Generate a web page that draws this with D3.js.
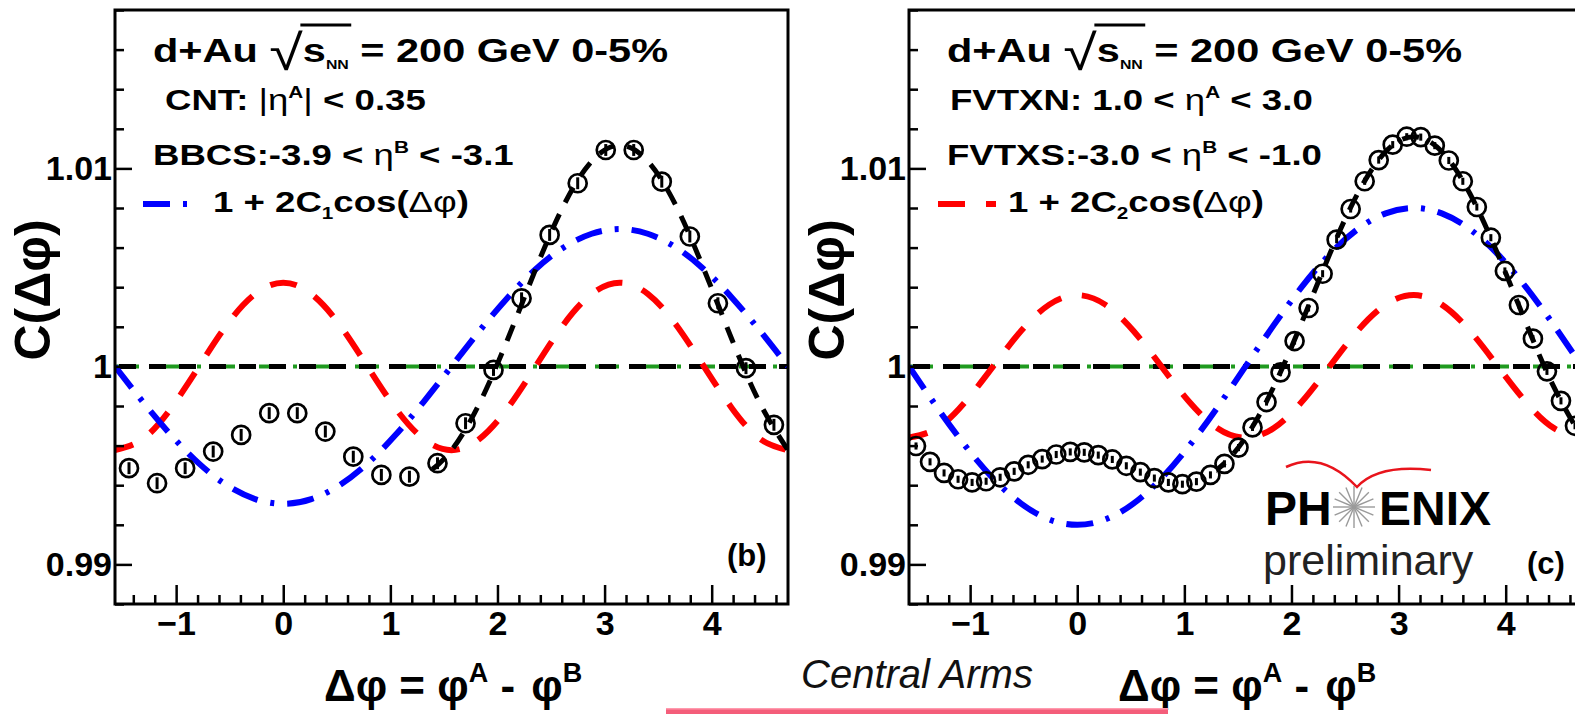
<!DOCTYPE html>
<html><head><meta charset="utf-8">
<script src="https://cdn.jsdelivr.net/npm/d3@7"></script>
<style>
html,body{margin:0;padding:0;background:#fff;}
svg{display:block;}
text{font-family:"Liberation Sans",Arial,Helvetica,sans-serif;white-space:pre;}
</style></head><body>
<svg id="fig" width="1575" height="714"></svg>
<script>
// ---- axis ranges and tick labels ----
const phiRange = [-Math.PI / 2, 3 * Math.PI / 2];
const corrRange = [0.988, 1.018];
const xTicks = [-1, 0, 1, 2, 3, 4];
const yTicks = [0.99, 1, 1.01];

// ---- panel (b): CNT - BBCS, 24 bins ----
const phiB = [-1.440, -1.178, -0.916, -0.654, -0.393, -0.131, 0.131, 0.393, 0.654, 0.916, 1.178, 1.440,
              1.702, 1.963, 2.225, 2.487, 2.749, 3.011, 3.272, 3.534, 3.796, 4.058, 4.320, 4.581];
const corrB = [0.99486, 0.99410, 0.99486, 0.99570, 0.99654, 0.99764, 0.99764, 0.99671, 0.99544, 0.99452, 0.99443, 0.99511,
               0.99713, 0.99982, 1.00344, 1.00664, 1.00925, 1.01093, 1.01093, 1.00933, 1.00656, 1.00319, 0.99991, 0.99705];
const errB = [0.0003, 0.0003, 0.0003, 0.0003, 0.0003, 0.0003, 0.0003, 0.0003, 0.0003, 0.0003, 0.0003, 0.0003,
              0.0003, 0.0003, 0.0003, 0.0003, 0.0003, 0.0003, 0.0003, 0.0003, 0.0003, 0.0003, 0.0003, 0.0003];

// ---- panel (c): FVTXN - FVTXS, 48 bins ----
const phiC = [-1.5054, -1.3744, -1.2435, -1.1126, -0.9817, -0.8508, -0.7199, -0.5890, -0.4581, -0.3272, -0.1963, -0.0654,
              0.0654, 0.1963, 0.3272, 0.4581, 0.5890, 0.7199, 0.8508, 0.9817, 1.1126, 1.2435, 1.3744, 1.5054,
              1.6363, 1.7672, 1.8981, 2.0290, 2.1599, 2.2908, 2.4216, 2.5525, 2.6834, 2.8143, 2.9452, 3.0761,
              3.2070, 3.3379, 3.4688, 3.5997, 3.7306, 3.8615, 3.9924, 4.1233, 4.2542, 4.3851, 4.5160, 4.6470];
const corrC = [0.99598, 0.99518, 0.99462, 0.99430, 0.99414, 0.99420, 0.99440, 0.99470, 0.99503, 0.99532, 0.99555, 0.99568,
               0.99566, 0.99552, 0.99530, 0.99498, 0.99466, 0.99436, 0.99414, 0.99405, 0.99418, 0.99452, 0.99508, 0.99590,
               0.99692, 0.99820, 0.99970, 1.00128, 1.00295, 1.00468, 1.00640, 1.00795, 1.00935, 1.01042, 1.01120, 1.01160,
               1.01158, 1.01115, 1.01040, 1.00935, 1.00805, 1.00650, 1.00482, 1.00310, 1.00140, 0.99975, 0.99826, 0.99700];
const errC = [0.00018, 0.00018, 0.00018, 0.00018, 0.00018, 0.00018, 0.00018, 0.00018, 0.00018, 0.00018, 0.00018, 0.00018,
              0.00018, 0.00018, 0.00018, 0.00018, 0.00018, 0.00018, 0.00018, 0.00018, 0.00018, 0.00018, 0.00018, 0.00018,
              0.00018, 0.00018, 0.00018, 0.00018, 0.00018, 0.00018, 0.00018, 0.00018, 0.00018, 0.00018, 0.00018, 0.00018,
              0.00018, 0.00018, 0.00018, 0.00018, 0.00018, 0.00018, 0.00018, 0.00018, 0.00018, 0.00018, 0.00018, 0.00018];

// ---- Fourier components, sampled every 15 degrees from -90 to 270 ----
const phiGrid = [-1.5708, -1.3090, -1.0472, -0.7854, -0.5236, -0.2618, 0, 0.2618, 0.5236, 0.7854, 1.0472, 1.3090,
                 1.5708, 1.8326, 2.0944, 2.3562, 2.6180, 2.8798, 3.1416, 3.4034, 3.6652, 3.9270, 4.1888, 4.4506, 4.7124];
const c1CurveB = [1.00000, 0.99820, 0.99653, 0.99509, 0.99399, 0.99330, 0.99306, 0.99330, 0.99399, 0.99509, 0.99653, 0.99820,
                  1.00000, 1.00180, 1.00347, 1.00491, 1.00601, 1.00670, 1.00694, 1.00670, 1.00601, 1.00491, 1.00347, 1.00180, 1.00000];
const c2CurveB = [0.99577, 0.99634, 0.99789, 1.00000, 1.00212, 1.00366, 1.00423, 1.00366, 1.00212, 1.00000, 0.99789, 0.99634,
                  0.99577, 0.99634, 0.99789, 1.00000, 1.00212, 1.00366, 1.00423, 1.00366, 1.00212, 1.00000, 0.99789, 0.99634, 0.99577];
const fitCurveB = [0.99577, 0.99454, 0.99442, 0.99509, 0.99611, 0.99696, 0.99729, 0.99696, 0.99611, 0.99509, 0.99442, 0.99454,
                   0.99577, 0.99814, 1.00136, 1.00491, 1.00813, 1.01036, 1.01117, 1.01036, 1.00813, 1.00491, 1.00136, 0.99814, 0.99577];
const c1CurveC = [1.00000, 0.99793, 0.99600, 0.99434, 0.99307, 0.99227, 0.99200, 0.99227, 0.99307, 0.99434, 0.99600, 0.99793,
                  1.00000, 1.00207, 1.00400, 1.00566, 1.00693, 1.00773, 1.00800, 1.00773, 1.00693, 1.00566, 1.00400, 1.00207, 1.00000];
const c2CurveC = [0.99640, 0.99688, 0.99820, 1.00000, 1.00180, 1.00312, 1.00360, 1.00312, 1.00180, 1.00000, 0.99820, 0.99688,
                  0.99640, 0.99688, 0.99820, 1.00000, 1.00180, 1.00312, 1.00360, 1.00312, 1.00180, 1.00000, 0.99820, 0.99688, 0.99640];
const fitCurveC = [0.99640, 0.99481, 0.99420, 0.99434, 0.99487, 0.99539, 0.99560, 0.99539, 0.99487, 0.99434, 0.99420, 0.99481,
                   0.99640, 0.99895, 1.00220, 1.00566, 1.00873, 1.01085, 1.01160, 1.01085, 1.00873, 1.00566, 1.00220, 0.99895, 0.99640];
const unityLevel = [1, 1];
// the full fit is shown from this Δφ onward
const fitStart = 1.3;

// ---- styles ----
const RED = "#ff0000", BLUE = "#0000ff", GREEN = "#1f9a1f";
const DASH_RED = "27 21", DASH_BLUE = "27 13 4 13", DASH_BLACK = "17 13", DASH_GREEN = "24 10 4 10";
const FONT = '"Liberation Sans",Arial,Helvetica,sans-serif';

const svg = d3.select("#fig");
svg.append("rect").attr("width", 1575).attr("height", 714).attr("fill", "#fff");
const defs = svg.append("defs");

// lays out a run of text pieces (sub/superscripts etc.) left to right
function richText(parent, x, y, segs, o) {
  const g = parent.append("g").attr("transform", `translate(${x},${y}) scale(${o.sx || 1},1)`);
  let cx = 0;
  const marks = [];
  segs.forEach(s => {
    const t = g.append("text")
      .attr("x", cx).attr("y", s.dy || 0)
      .attr("font-size", s.size || o.size)
      .attr("font-weight", s.weight || o.weight || "bold")
      .attr("font-family", s.family || FONT)
      .attr("fill", s.fill || o.fill || "#000")
      .text(s.t);
    const w = t.node().getComputedTextLength();
    marks.push({ x0: cx, x1: cx + w });
    cx += w + (s.gap || 0);
  });
  return { g, marks, width: cx };
}

function drawPanel(p) {
  const W = 673, top = 10, bottom = 604;
  const x = d3.scaleLinear().domain(phiRange).range([p.left, p.left + W]);
  const y = d3.scaleLinear().domain(corrRange).range([bottom, top]);
  const g = svg.append("g");

  defs.append("clipPath").attr("id", "clip-" + p.id)
    .append("rect").attr("x", p.left).attr("y", top).attr("width", W).attr("height", bottom - top);
  const plot = g.append("g").attr("clip-path", `url(#clip-${p.id})`);

  const smooth = d3.line().x(d => x(d[0])).y(d => y(d[1])).curve(d3.curveNatural);
  const straight = d3.line().x(d => x(d[0])).y(d => y(d[1]));

  // reference level C = 1
  plot.append("path").datum(phiRange.map((v, i) => [v, unityLevel[i]])).attr("d", straight)
    .attr("fill", "none").attr("stroke", GREEN).attr("stroke-width", 4).attr("stroke-dasharray", DASH_GREEN);
  plot.append("path").datum(phiRange.map((v, i) => [v, unityLevel[i]])).attr("d", straight)
    .attr("fill", "none").attr("stroke", "#000").attr("stroke-width", 5).attr("stroke-dasharray", DASH_BLACK)
    .attr("stroke-dashoffset", -4);

  // second and first harmonic components
  plot.append("path").datum(phiGrid.map((v, i) => [v, p.c2[i]])).attr("d", smooth)
    .attr("fill", "none").attr("stroke", RED).attr("stroke-width", 6).attr("stroke-dasharray", DASH_RED)
    .attr("stroke-dashoffset", p.redOffset);
  plot.append("path").datum(phiGrid.map((v, i) => [v, p.c1[i]])).attr("d", smooth)
    .attr("fill", "none").attr("stroke", BLUE).attr("stroke-width", 6).attr("stroke-dasharray", DASH_BLUE);

  // full Fourier fit on the away side
  const fitPts = phiGrid.map((v, i) => [v, p.fit[i]]);
  const fitClipId = "fitclip-" + p.id;
  defs.append("clipPath").attr("id", fitClipId)
    .append("rect").attr("x", x(fitStart)).attr("y", top).attr("width", p.left + W - x(fitStart)).attr("height", bottom - top);
  plot.append("g").attr("clip-path", `url(#${fitClipId})`)
    .append("path").datum(fitPts).attr("d", smooth)
    .attr("fill", "none").attr("stroke", "#000").attr("stroke-width", 5).attr("stroke-dasharray", DASH_BLACK);

  // data points with statistical errors
  const pts = plot.append("g");
  const data = p.phi.map((v, i) => ({ phi: v, c: p.corr[i], e: p.err[i] }));
  pts.selectAll("line.err").data(data).join("line").attr("class", "err")
    .attr("x1", d => x(d.phi)).attr("x2", d => x(d.phi))
    .attr("y1", d => y(d.c - d.e)).attr("y2", d => y(d.c + d.e))
    .attr("stroke", "#000").attr("stroke-width", 3);
  pts.selectAll("circle").data(data).join("circle")
    .attr("cx", d => x(d.phi)).attr("cy", d => y(d.c)).attr("r", 9)
    .attr("fill", "none").attr("stroke", "#000").attr("stroke-width", 2.7);

  // axes with inward ticks
  const axStyle = sel => {
    sel.attr("font-family", FONT).attr("font-size", 34).attr("font-weight", "bold");
    sel.select(".domain").remove();
    sel.selectAll(".tick line").attr("stroke", "#000").attr("stroke-width", 2.5);
    sel.selectAll(".tick text").attr("fill", "#000");
  };
  const xMinor = d3.range(-1.4, 4.7, 0.2).filter(v => Math.abs(v - Math.round(v)) > 1e-6);
  g.append("g").attr("transform", `translate(0,${bottom})`)
    .call(d3.axisBottom(x).tickValues(xMinor).tickSize(-9).tickFormat("")).call(axStyle);
  g.append("g").attr("transform", `translate(0,${bottom})`)
    .call(d3.axisBottom(x).tickValues(xTicks).tickSize(-19).tickPadding(7).tickFormat(d3.format("d"))).call(axStyle);
  const yMinor = d3.range(0.988, 1.0181, 0.002).filter(v => yTicks.every(t => Math.abs(t - v) > 1e-6));
  g.append("g").attr("transform", `translate(${p.left},0)`)
    .call(d3.axisLeft(y).tickValues(yMinor).tickSize(-9).tickFormat("")).call(axStyle);
  g.append("g").attr("transform", `translate(${p.left},0)`)
    .call(d3.axisLeft(y).tickValues(yTicks).tickSize(-17).tickPadding(3).tickFormat(d3.format("~g"))).call(axStyle);

  // frame
  g.append("rect").attr("x", p.left).attr("y", top).attr("width", W).attr("height", bottom - top)
    .attr("fill", "none").attr("stroke", "#000").attr("stroke-width", 3);

  // axis titles
  g.append("text").attr("transform", `translate(${p.left - 82},290) rotate(-90)`)
    .attr("text-anchor", "middle").attr("dominant-baseline", "central")
    .attr("font-size", 50).attr("font-weight", "bold").attr("font-family", FONT).text("C(Δφ)");
  richText(g, p.left + 209, 701, [
    { t: "Δφ" }, { t: " = " }, { t: "φ" }, { t: "A", size: 27, dy: -19 },
    { t: " - ", gap: 4 }, { t: "φ" }, { t: "B", size: 27, dy: -19 }
  ], { size: 44 });

  // header text
  const title = richText(g, p.left + 38, 62, [
    { t: "d+Au " }, { t: "√", size: 50, weight: "normal", dy: 8 }, { t: "s" },
    { t: "NN", size: 13, dy: 7 }, { t: " = 200 GeV 0-5%" }
  ], { size: 34, sx: 1.22 });
  title.g.append("line")
    .attr("x1", title.marks[1].x1 - 2).attr("x2", title.marks[3].x1 + 2)
    .attr("y1", -37).attr("y2", -37).attr("stroke", "#000").attr("stroke-width", 3);

  richText(g, p.left + p.line2x, 110, p.line2, { size: 30, sx: 1.22 });
  richText(g, p.left + 38, 165, p.line3, { size: 30, sx: 1.22 });

  // legend entry
  g.append("line").attr("x1", p.left + p.legX0).attr("x2", p.left + p.legX1).attr("y1", 204).attr("y2", 204)
    .attr("stroke", p.legColor).attr("stroke-width", 6).attr("stroke-dasharray", p.legDash);
  richText(g, p.left + p.legTextX, 212, p.legText, { size: 30, sx: 1.22 });

  // panel tag
  g.append("text").attr("x", p.left + p.tagX).attr("y", p.tagY).attr("font-size", 31).attr("font-weight", "bold")
    .attr("font-family", FONT).text(p.tag);
  return { x, y, g };
}

const eta = { t: "η", weight: "normal" };

drawPanel({
  id: "b", left: 115, phi: phiB, corr: corrB, err: errB,
  c1: c1CurveB, c2: c2CurveB, fit: fitCurveB, redOffset: 8,
  line2x: 50,
  line2: [{ t: "CNT: " }, { t: "|", weight: "normal" }, eta, { t: "A", size: 17, dy: -12 },
          { t: "|", weight: "normal" }, { t: " < 0.35" }],
  line3: [{ t: "BBCS:-3.9 < " }, eta, { t: "B", size: 17, dy: -12 }, { t: " < -3.1" }],
  legX0: 28, legX1: 80, legColor: BLUE, legDash: DASH_BLUE, legTextX: 98,
  legText: [{ t: "1 + 2C" }, { t: "1", size: 17, dy: 7 }, { t: "cos(" }, { t: "Δφ", weight: "normal" }, { t: ")" }],
  tag: "(b)", tagX: 612, tagY: 566
});

drawPanel({
  id: "c", left: 909, phi: phiC, corr: corrC, err: errC,
  c1: c1CurveC, c2: c2CurveC, fit: fitCurveC, redOffset: 8,
  line2x: 41,
  line2: [{ t: "FVTXN: 1.0 < " }, eta, { t: "A", size: 17, dy: -12 }, { t: " < 3.0" }],
  line3: [{ t: "FVTXS:-3.0 < " }, eta, { t: "B", size: 17, dy: -12 }, { t: " < -1.0" }],
  legX0: 29, legX1: 87, legColor: RED, legDash: DASH_RED, legTextX: 99,
  legText: [{ t: "1 + 2C" }, { t: "2", size: 17, dy: 7 }, { t: "cos(" }, { t: "Δφ", weight: "normal" }, { t: ")" }],
  tag: "(c)", tagX: 618, tagY: 574
});

// PHENIX preliminary mark
const logo = svg.append("g");
logo.append("path").attr("d", "M1286,467 Q1322,450 1357,487 Q1378,464 1431,470")
  .attr("fill", "none").attr("stroke", "#e8141c").attr("stroke-width", 2.5);
const star = logo.append("g").attr("transform", "translate(1354,507)");
d3.range(16).forEach(i => {
  const a = i * Math.PI / 8;
  star.append("line").attr("x1", 0).attr("y1", 0)
    .attr("x2", 21 * Math.cos(a)).attr("y2", 21 * Math.sin(a))
    .attr("stroke", "#9a9a9a").attr("stroke-width", 1.4);
});
logo.append("text").attr("x", 1265).attr("y", 525).attr("font-size", 48).attr("font-weight", "bold")
  .attr("font-family", FONT).text("PH");
logo.append("text").attr("x", 1379).attr("y", 525).attr("font-size", 48).attr("font-weight", "bold")
  .attr("font-family", FONT).text("ENIX");
logo.append("text").attr("x", 1263).attr("y", 575).attr("font-size", 43)
  .attr("font-family", FONT).attr("fill", "#222").text("preliminary");

// caption bar
svg.append("rect").attr("x", 666).attr("y", 709).attr("width", 502).attr("height", 6).attr("fill", "#f45d7a");
svg.append("rect").attr("x", 666).attr("y", 708).attr("width", 502).attr("height", 1.5).attr("fill", "#ff9aae");
svg.append("text").attr("x", 917).attr("y", 688).attr("text-anchor", "middle")
  .attr("font-family", "Lato, Roboto, 'Liberation Sans', sans-serif").attr("font-weight", 300)
  .attr("font-style", "italic").attr("font-size", 40).attr("fill", "#111").text("Central Arms");
</script>
</body></html>
